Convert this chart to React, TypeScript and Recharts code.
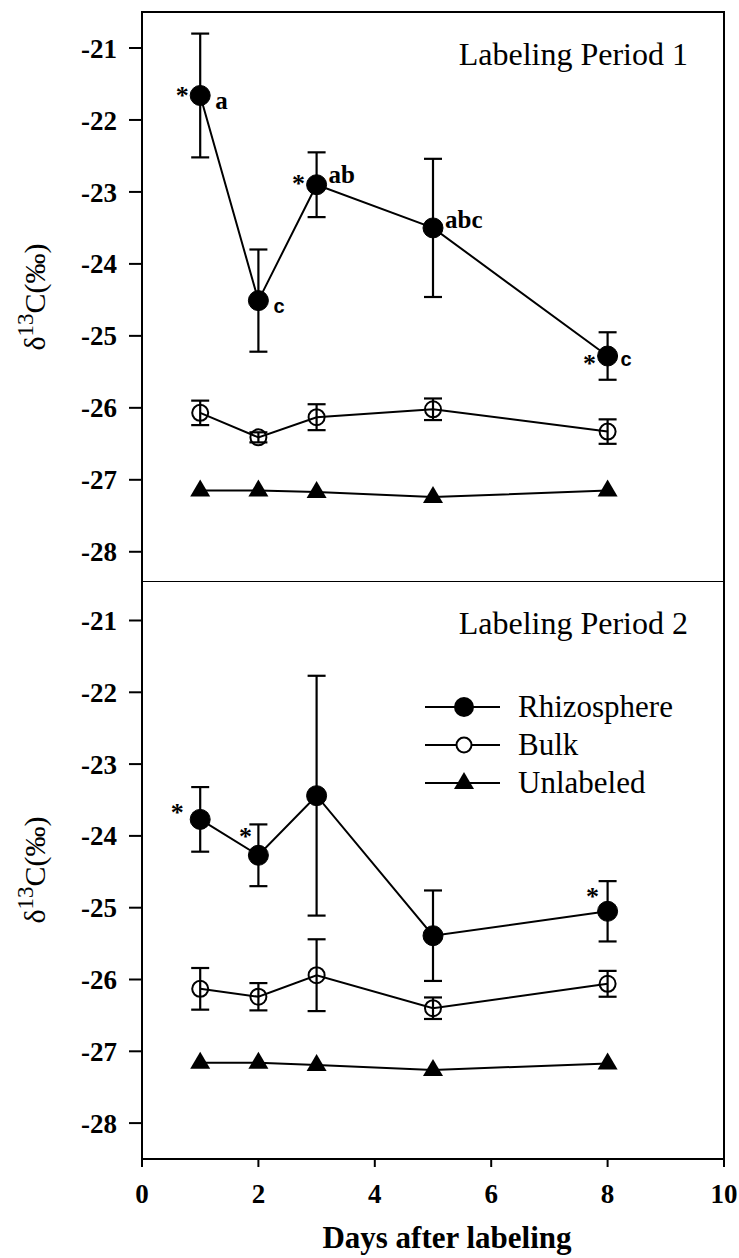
import React from "react"
import { LineChart, Line, XAxis, YAxis, ErrorBar, ReferenceArea, LabelList, Legend } from "recharts"

const days = [1, 2, 3, 5, 8]
const xTicks = [0, 2, 4, 6, 8, 10]
const yTicks = [-28, -27, -26, -25, -24, -23, -22, -21]
const seriesNames = ["Rhizosphere", "Bulk", "Unlabeled"]

// Labeling period 1
const rhizo1 = [-21.66, -24.51, -22.9, -23.5, -25.28]
const rhizo1Err = [0.86, 0.71, 0.45, 0.96, 0.33]
const bulk1 = [-26.07, -26.41, -26.13, -26.02, -26.33]
const bulk1Err = [0.17, 0.07, 0.18, 0.15, 0.17]
const unl1 = [-27.15, -27.15, -27.17, -27.24, -27.15]
const stars1 = [true, false, true, false, true]
const letters1 = ["a", "c", "ab", "abc", "c"]

// Labeling period 2
const rhizo2 = [-23.77, -24.27, -23.44, -25.39, -25.05]
const rhizo2Err = [0.45, 0.43, 1.67, 0.63, 0.42]
const bulk2 = [-26.13, -26.24, -25.94, -26.4, -26.06]
const bulk2Err = [0.29, 0.19, 0.5, 0.15, 0.18]
const unl2 = [-27.16, -27.16, -27.19, -27.26, -27.17]
const stars2 = [true, true, false, false, true]
const letters2 = ["", "", "", "", ""]

const SERIF = "'Liberation Serif', 'Times New Roman', serif"
const SANS = "'Liberation Sans', Arial, sans-serif"

function buildRows(rz: number[], rzErr: number[], bk: number[], bkErr: number[], un: number[]) {
  return days.map((d, i) => ({
    day: d,
    rhizo: rz[i],
    rhizoErr: rzErr[i],
    bulk: bk[i],
    bulkErr: bkErr[i],
    unl: un[i],
  }))
}

const data1 = buildRows(rhizo1, rhizo1Err, bulk1, bulk1Err, unl1)
const data2 = buildRows(rhizo2, rhizo2Err, bulk2, bulk2Err, unl2)

// where the * and letter sit around each point (styling only)
const starOff1 = [[-18, -3], [0, 0], [-18, -5], [0, 0], [-18, 4]]
const letterOff1 = [[15, 14], [15, 12], [12, -2], [12, 0], [13, 10]]
const starOff2 = [[-23, -10], [-13, -22], [0, 0], [0, 0], [-15, -18]]
const letterOff2 = [[0, 0], [0, 0], [0, 0], [0, 0], [0, 0]]

const Triangle = (props: any) => {
  const { cx, cy, index } = props
  if (cx == null || cy == null) return <g key={`tri-${index}`} />
  return <path key={`tri-${index}`} d={`M${cx},${cy - 11} L${cx + 10},${cy + 6} L${cx - 10},${cy + 6} Z`} fill="#000" />
}

function makeAnnotation(stars: boolean[], letters: string[], starOff: number[][], letterOff: number[][]) {
  return (props: any) => {
    const { x, y, index } = props
    if (x == null || y == null) return null
    const letter = letters[index]
    return (
      <g key={`ann-${index}`}>
        {stars[index] && (
          <text x={x + starOff[index][0]} y={y + starOff[index][1] + 12} textAnchor="middle" fontFamily={SERIF} fontWeight="bold" fontSize={26} fill="#000">
            *
          </text>
        )}
        {letter && (
          <text
            x={x + letterOff[index][0]}
            y={y + letterOff[index][1]}
            textAnchor="start"
            fontFamily={letter === "c" ? SANS : SERIF}
            fontWeight="bold"
            fontSize={letter === "c" ? 20 : 25}
            fill="#000"
          >
            {letter}
          </text>
        )}
      </g>
    )
  }
}

const YLabel = (props: any) => {
  const vb = props.viewBox || {}
  const cx = 45
  const cy = vb.y + vb.height / 2
  return (
    <text transform={`rotate(-90, ${cx}, ${cy})`} x={cx} y={cy} textAnchor="middle" fontFamily={SERIF} fontSize={30} fill="#000">
      δ<tspan dy={-12} fontSize={23}>13</tspan>
      <tspan dy={12}>C(‰)</tspan>
    </text>
  )
}

const makeTitle = (title: string) => (props: any) => {
  const vb = props.viewBox || {}
  return (
    <text x={vb.x + vb.width - 36} y={vb.y + 53} textAnchor="end" fontFamily={SERIF} fontSize={32} fill="#000">
      {title}
    </text>
  )
}

const XLabel = (props: any) => {
  const vb = props.viewBox || {}
  return (
    <text x={vb.x + vb.width / 2 + 14} y={vb.y + 89} textAnchor="middle" fontFamily={SERIF} fontWeight="bold" fontSize={31} fill="#000">
      Days after labeling
    </text>
  )
}

const LegendBox = () => (
  <svg width={300} height={120}>
    {seriesNames.map((name, i) => {
      const cy = 21 + i * 38
      return (
        <g key={name}>
          <line x1={5} x2={80} y1={cy} y2={cy} stroke="#000" strokeWidth={2} />
          {i === 0 && <circle cx={44} cy={cy} r={10} fill="#000" />}
          {i === 1 && <circle cx={44} cy={cy} r={7.5} fill="#fff" stroke="#000" strokeWidth={2} />}
          {i === 2 && <path d={`M44,${cy - 11} L54,${cy + 6} L34,${cy + 6} Z`} fill="#000" />}
          <text x={98} y={cy + 10} fontFamily={SERIF} fontSize={31} fill="#000">
            {name}
          </text>
        </g>
      )
    })}
  </svg>
)

type PanelProps = {
  data: any[]
  domain: [number, number]
  title: string
  height: number
  margin: any
  bottomAxis: boolean
  legend: boolean
  annotate: (p: any) => any
}

function Panel({ data, domain, title, height, margin, bottomAxis, legend, annotate }: PanelProps) {
  const tickStyle = { fontFamily: SERIF, fontWeight: "bold", fontSize: 27, fill: "#000" }
  return (
    <LineChart width={739} height={height} data={data} margin={margin}>
      <ReferenceArea x1={0} x2={10} y1={domain[0]} y2={domain[1]} fill="none" stroke="#000" strokeWidth={2} ifOverflow="visible" label={makeTitle(title)} />
      <XAxis
        type="number"
        dataKey="day"
        domain={[0, 10]}
        ticks={xTicks}
        hide={!bottomAxis}
        height={99}
        tickSize={8}
        tickMargin={17}
        tick={tickStyle}
        axisLine={{ stroke: "#000", strokeWidth: 2 }}
        tickLine={{ stroke: "#000", strokeWidth: 2 }}
        label={<XLabel />}
      />
      <YAxis
        type="number"
        domain={domain}
        ticks={yTicks}
        allowDataOverflow
        width={142}
        tickSize={13}
        tickMargin={12}
        tick={tickStyle}
        axisLine={{ stroke: "#000", strokeWidth: 2 }}
        tickLine={{ stroke: "#000", strokeWidth: 2 }}
        label={<YLabel />}
      />
      {legend && (
        <Legend layout="vertical" align="center" verticalAlign="middle" content={<LegendBox />} wrapperStyle={{ top: 105, left: 420, width: 300, height: 120 }} />
      )}
      <Line name="Rhizosphere" dataKey="rhizo" type="linear" stroke="#000" strokeWidth={2} dot={{ r: 10, fill: "#000", stroke: "#000", strokeWidth: 1 }} isAnimationActive={false}>
        <ErrorBar dataKey="rhizoErr" width={9} stroke="#000" strokeWidth={2.2} direction="y" />
        <LabelList dataKey="rhizo" content={annotate} />
      </Line>
      <Line name="Bulk" dataKey="bulk" type="linear" stroke="#000" strokeWidth={2} dot={{ r: 8, fill: "none", stroke: "#000", strokeWidth: 2 }} isAnimationActive={false}>
        <ErrorBar dataKey="bulkErr" width={9} stroke="#000" strokeWidth={2.2} direction="y" />
      </Line>
      <Line name="Unlabeled" dataKey="unl" type="linear" stroke="#000" strokeWidth={2} dot={<Triangle />} isAnimationActive={false} />
    </LineChart>
  )
}

export default function App() {
  return (
    <div style={{ position: "absolute", left: 0, top: 0, width: 739, height: 1258, background: "#fff" }}>
      <div style={{ position: "absolute", left: 0, top: 0 }}>
        <Panel
          data={data1}
          domain={[-28.42, -20.5]}
          title="Labeling Period 1"
          height={582}
          margin={{ top: 12, right: 15, bottom: 0, left: 0 }}
          bottomAxis={false}
          legend={false}
          annotate={makeAnnotation(stars1, letters1, starOff1, letterOff1)}
        />
      </div>
      <div style={{ position: "absolute", left: 0, top: 581 }}>
        <Panel
          data={data2}
          domain={[-28.5, -20.45]}
          title="Labeling Period 2"
          height={677}
          margin={{ top: 0, right: 15, bottom: 0, left: 0 }}
          bottomAxis={true}
          legend={true}
          annotate={makeAnnotation(stars2, letters2, starOff2, letterOff2)}
        />
      </div>
    </div>
  )
}
